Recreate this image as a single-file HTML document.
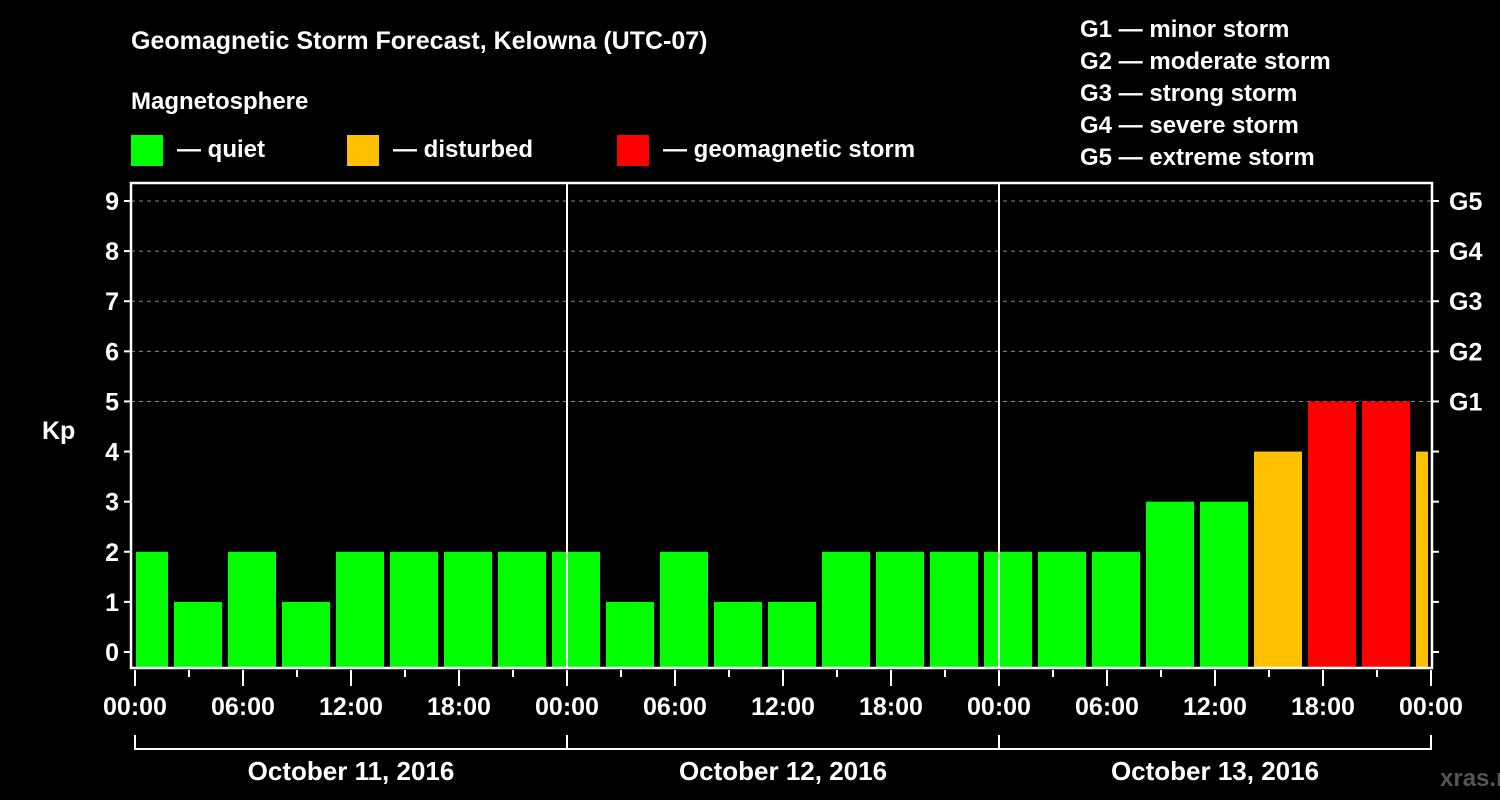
<!DOCTYPE html>
<html><head><meta charset="utf-8">
<style>
html,body{margin:0;padding:0;background:#000;}
svg{display:block;font-family:"Liberation Sans",Arial,sans-serif;font-weight:bold;}
</style></head>
<body>
<svg id="chart" width="1500" height="800" viewBox="0 0 1500 800">
  <rect x="0" y="0" width="1500" height="800" fill="#000"/>
  <text x="131" y="49" fill="#fff" font-size="25">Geomagnetic Storm Forecast, Kelowna (UTC-07)</text>
  <text x="131" y="109" fill="#fff" font-size="24">Magnetosphere</text>
  <g>
    <rect x="131" y="135" width="32" height="31" fill="#00ff00"/>
    <text x="177" y="157" fill="#fff" font-size="24">— quiet</text>
    <rect x="347" y="135" width="32" height="31" fill="#ffc000"/>
    <text x="393" y="157" fill="#fff" font-size="24">— disturbed</text>
    <rect x="617" y="135" width="32" height="31" fill="#ff0000"/>
    <text x="663" y="157" fill="#fff" font-size="24">— geomagnetic storm</text>
  </g>
  <g fill="#fff" font-size="24">
    <text x="1080" y="37">G1 — minor storm</text>
    <text x="1080" y="69">G2 — moderate storm</text>
    <text x="1080" y="101">G3 — strong storm</text>
    <text x="1080" y="133">G4 — severe storm</text>
    <text x="1080" y="165">G5 — extreme storm</text>
  </g>
  <text x="42" y="439" fill="#fff" font-size="25">Kp</text>
  <text x="1440" y="786" fill="#555" font-size="24">xras.ru</text>
  <g id="plot"></g>
</svg>
<script>
const kpValues = [2,1,2,1,2,2,2,2,2,1,2,1,1,2,2,2,2,2,2,3,3,4,5,5,4];
const startHour = -1; // first bar starts at -1h (local)
const kpTicks = [0,1,2,3,4,5,6,7,8,9];
const gLabels = ["G1","G2","G3","G4","G5"];
const gLevels = [5,6,7,8,9];
const timeLabels = ["00:00","06:00","12:00","18:00","00:00","06:00","12:00","18:00","00:00","06:00","12:00","18:00","00:00"];
const dayLabels = ["October 11, 2016","October 12, 2016","October 13, 2016"];

const NS="http://www.w3.org/2000/svg";
const plot=document.getElementById('plot');
const L=131,R=1432,T=183,B=668;
const X0=135, PXH=18;
const xs=h=>X0+h*PXH;
const ys=k=>652-k*50.11;
function el(tag,attrs,parent){const e=document.createElementNS(NS,tag);for(const k in attrs)e.setAttribute(k,attrs[k]);(parent||plot).appendChild(e);return e;}
function color(k){return k>=5?"#ff0000":(k>=4?"#ffc000":"#00ff00");}

// grid lines for Kp 5..9
gLevels.forEach(k=>{
  const g=el('line',{x1:L,x2:R,y1:ys(k),y2:ys(k),stroke:'#888','stroke-width':1,'stroke-dasharray':'4,4'});
  
  
});
// bars
kpValues.forEach((v,i)=>{
  const h0=startHour+i*3;
  let x1=xs(h0)+3, x2=xs(h0+3)-3;
  x1=Math.max(x1,L+5); x2=Math.min(x2,R-4);
  const r=el('rect',{x:x1,y:ys(v),width:x2-x1,height:B-ys(v),fill:color(v)});
  
  
});
// day separators
[1,2].forEach(d=>{
  const l=el('line',{x1:xs(d*24),x2:xs(d*24),y1:T,y2:B,stroke:'#fff','stroke-width':2});
  
  
});
// frame
const fr=el('rect',{x:L,y:T,width:R-L,height:B-T,fill:'none',stroke:'#fff','stroke-width':2.5});


// y ticks and labels
kpTicks.forEach(k=>{
  const t=el('line',{x1:L-7,x2:L,y1:ys(k),y2:ys(k),stroke:'#fff','stroke-width':2});
  
  
  const t2=el('line',{x1:R,x2:R+7,y1:ys(k),y2:ys(k),stroke:'#fff','stroke-width':2});
  
  
  const tx=el('text',{x:L-12,y:ys(k)+9,fill:'#fff','font-size':25,'text-anchor':'end'});
  tx.textContent=k;
  
  
});
gLabels.forEach((g,i)=>{
  const tx=el('text',{x:1449,y:ys(gLevels[i])+9,fill:'#fff','font-size':25});
  tx.textContent=g;
  
  
});
// x ticks
for(let h=0;h<=72;h+=3){
  const major=h%6===0;
  const t=el('line',{x1:xs(h),x2:xs(h),y1:B+2,y2:B+(major?18:9),stroke:'#fff','stroke-width':2});
  
  
}
timeLabels.forEach((s,i)=>{
  const tx=el('text',{x:xs(i*6),y:715,fill:'#fff','font-size':25,'text-anchor':'middle'});
  tx.textContent=s;
  
  
});
// day bracket
const br=el('line',{x1:xs(0),x2:xs(72),y1:749,y2:749,stroke:'#fff','stroke-width':2});


for(let d=0;d<=3;d++){
  const v=el('line',{x1:xs(d*24),x2:xs(d*24),y1:735,y2:750,stroke:'#fff','stroke-width':2});
  
  
}
dayLabels.forEach((s,i)=>{
  const tx=el('text',{x:xs(i*24+12),y:780,fill:'#fff','font-size':26,'text-anchor':'middle'});
  tx.textContent=s;
  
  
});
</script>
</body></html>
